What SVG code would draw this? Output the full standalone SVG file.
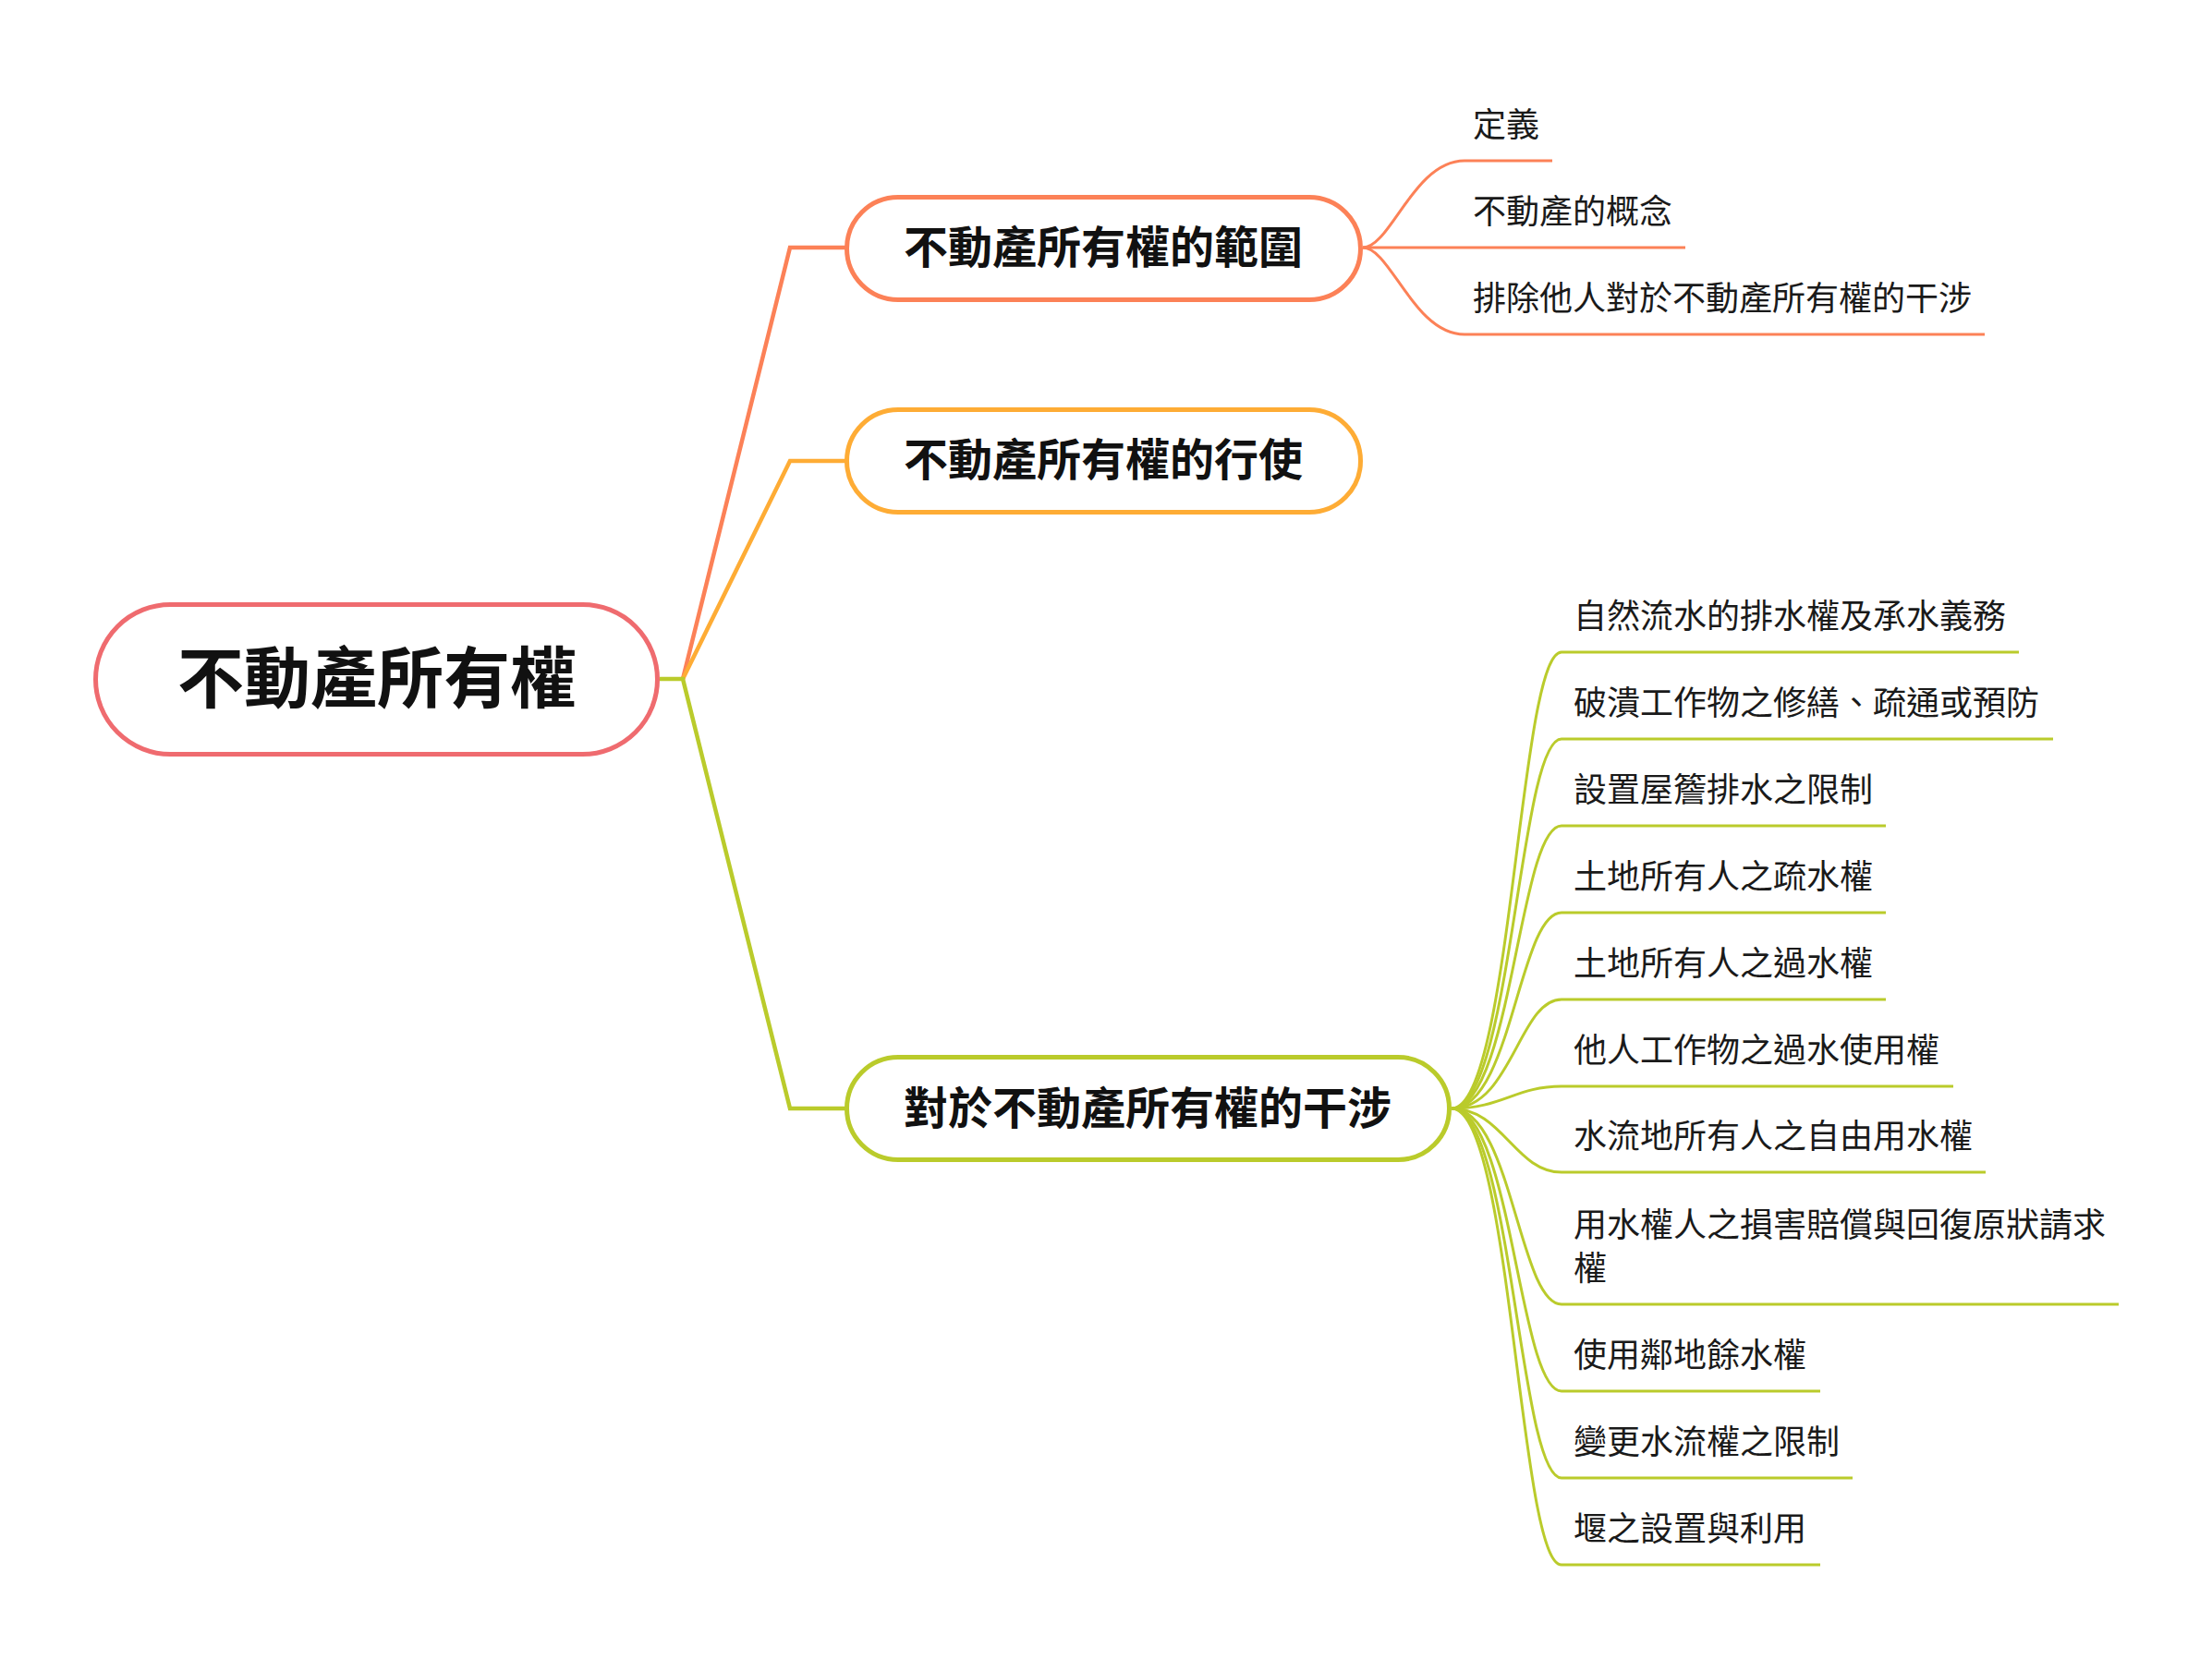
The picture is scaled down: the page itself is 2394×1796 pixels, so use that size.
<svg xmlns="http://www.w3.org/2000/svg" width="2394" height="1796" viewBox="0 0 2394 1796">
<style>
.node{fill:#fff;stroke-width:5}
.title{font-family:"Noto Sans CJK TC","Noto Sans CJK SC",sans-serif;font-weight:700;fill:#111;text-anchor:middle}
.sub{font-family:"Noto Sans CJK TC","Noto Sans CJK SC",sans-serif;font-size:36px;fill:#1a1a1a}
.main{fill:none;stroke-width:4.5;stroke-linejoin:miter}
.br{fill:none;stroke-width:3}
.o{stroke:#FC8157}.y{stroke:#FEAC35}.g{stroke:#BACB2B}.r{stroke:#EF6B6F}
</style>
<rect width="2394" height="1796" fill="#fff"/>
<g id="connectors">
<polyline class="main o" points="739,735 855,268 916,268"/>
<polyline class="main y" points="739,735 855,499 916,499"/>
<polyline class="main g" points="714,735 739,735 855,1200 916,1200"/>
<g class="br o">
<path d="M1475,268 C1505,268 1530,174 1585,174 H1680"/>
<path d="M1475,268 H1824"/>
<path d="M1475,268 C1505,268 1530,362 1585,362 H2148"/>
</g>
<g class="br g">
<path d="M1571,1200 C1636,1200 1644,706 1690,706 H2185"/>
<path d="M1571,1200 C1636,1200 1644,800 1690,800 H2222"/>
<path d="M1571,1200 C1636,1200 1644,894 1690,894 H2041"/>
<path d="M1571,1200 C1636,1200 1644,988 1690,988 H2041"/>
<path d="M1571,1200 C1636,1200 1644,1082 1690,1082 H2041"/>
<path d="M1571,1200 C1626,1200 1640,1176 1690,1176 H2114"/>
<path d="M1571,1200 C1626,1200 1640,1269 1690,1269 H2149"/>
<path d="M1571,1200 C1636,1200 1644,1412 1690,1412 H2293"/>
<path d="M1571,1200 C1636,1200 1644,1506 1690,1506 H1970"/>
<path d="M1571,1200 C1636,1200 1644,1600 1690,1600 H2005"/>
<path d="M1571,1200 C1636,1200 1644,1694 1690,1694 H1970"/>
</g>
</g>
<g id="root">
<rect class="node r" x="103.5" y="654.5" width="608" height="162" rx="81"/>
<text class="title" x="408" y="760" font-size="72">不動產所有權</text>
</g>
<g id="n1">
<rect class="node o" x="916.5" y="213.5" width="556" height="111" rx="55.5"/>
<text class="title" x="1194" y="285" font-size="48">不動產所有權的範圍</text>
</g>
<g id="n2">
<rect class="node y" x="916.5" y="443.5" width="556" height="111" rx="55.5"/>
<text class="title" x="1194" y="515" font-size="48">不動產所有權的行使</text>
</g>
<g id="n3">
<rect class="node g" x="916.5" y="1144.5" width="652" height="111" rx="55.5"/>
<text class="title" x="1242" y="1217" font-size="48">對於不動產所有權的干涉</text>
</g>
<g id="n1-subs">
<text class="sub" x="1594" y="148">定義</text>
<text class="sub" x="1594" y="242">不動產的概念</text>
<text class="sub" x="1594" y="336">排除他人對於不動產所有權的干涉</text>
</g>
<g id="n3-subs">
<text class="sub" x="1703" y="680">自然流水的排水權及承水義務</text>
<text class="sub" x="1703" y="774">破潰工作物之修繕、疏通或預防</text>
<text class="sub" x="1703" y="868">設置屋簷排水之限制</text>
<text class="sub" x="1703" y="962">土地所有人之疏水權</text>
<text class="sub" x="1703" y="1056">土地所有人之過水權</text>
<text class="sub" x="1703" y="1150">他人工作物之過水使用權</text>
<text class="sub" x="1703" y="1243">水流地所有人之自由用水權</text>
<text class="sub" x="1703" y="1339">用水權人之損害賠償與回復原狀請求</text>
<text class="sub" x="1703" y="1386">權</text>
<text class="sub" x="1703" y="1480">使用鄰地餘水權</text>
<text class="sub" x="1703" y="1574">變更水流權之限制</text>
<text class="sub" x="1703" y="1668">堰之設置與利用</text>
</g>
</svg>
